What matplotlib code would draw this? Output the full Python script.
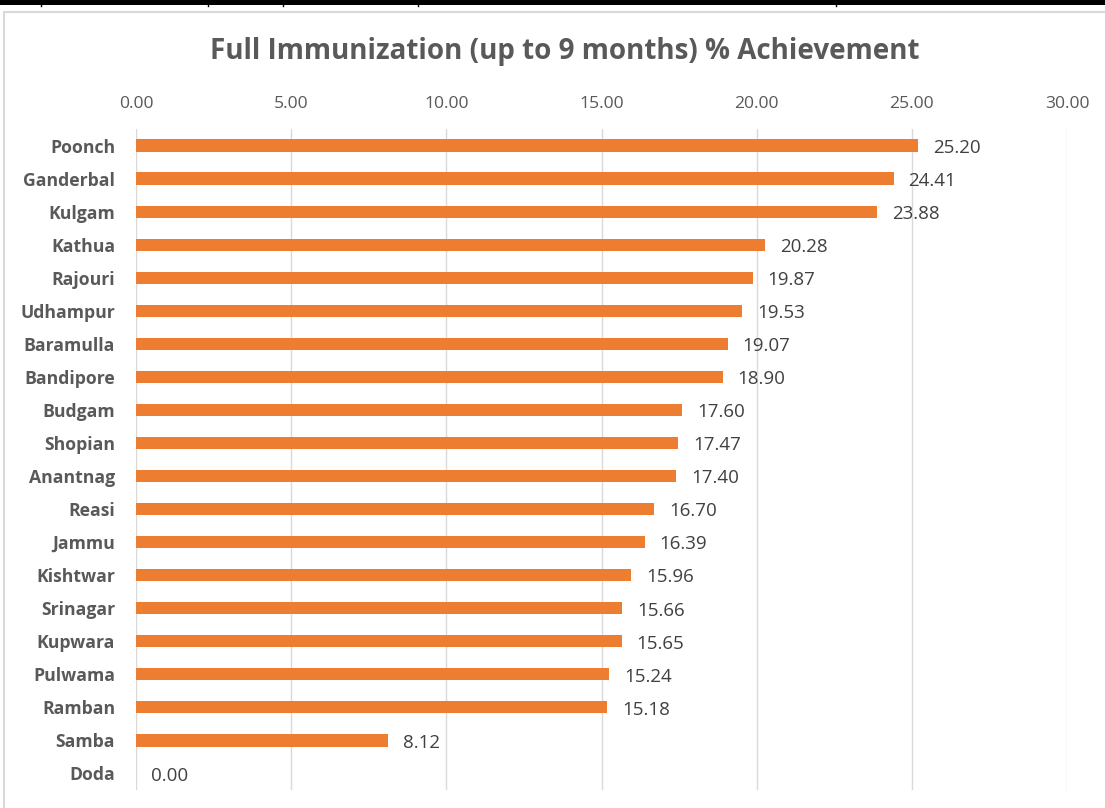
import matplotlib.pyplot as plt
from matplotlib.patches import Rectangle
from matplotlib.lines import Line2D

districts = ['Poonch', 'Ganderbal', 'Kulgam', 'Kathua', 'Rajouri', 'Udhampur',
             'Baramulla', 'Bandipore', 'Budgam', 'Shopian', 'Anantnag', 'Reasi',
             'Jammu', 'Kishtwar', 'Srinagar', 'Kupwara', 'Pulwama', 'Ramban',
             'Samba', 'Doda']
achievement = [25.20, 24.41, 23.88, 20.28, 19.87, 19.53, 19.07, 18.90, 17.60,
               17.47, 17.40, 16.70, 16.39, 15.96, 15.66, 15.65, 15.24, 15.18,
               8.12, 0.00]
x_ticks = [0, 5, 10, 15, 20, 25, 30]

plt.rcParams['font.family'] = ['Open Sans', 'DejaVu Sans']
grey = '#595959'

fig = plt.figure(figsize=(11.05, 8.08), dpi=100)

# bordures du tableau en haut (document source)
fig.add_artist(Rectangle((0, 1 - 5 / 808), 1, 5 / 808, transform=fig.transFigure,
                         color='black', lw=0))
for xp in [41, 208, 283, 418, 836]:
    fig.add_artist(Line2D([xp / 1105, xp / 1105], [1 - 6 / 808, 1], transform=fig.transFigure,
                          color='black', lw=1))
# cadre du graphique
fig.add_artist(Rectangle((3.5 / 1105, -0.01), 1.1, 1 - 11.5 / 808 + 0.01, transform=fig.transFigure,
                         fill=False, edgecolor='#d9d9d9', lw=1.5))

ax = fig.add_axes([136 / 1105, 1 - 790 / 808, 931 / 1105, 661 / 808])
y = range(len(districts))
ax.barh(y, achievement, height=0.37, color='#ED7D31')
for yi, v in zip(y, achievement):
    ax.text(v + 0.48, yi + 0.07, f'{v:.2f}', va='center', ha='left', fontsize=13.5, color='#404040')

ax.set_xlim(0, 30)
ax.set_ylim(len(districts) - 0.5, -0.5)
ax.set_xticks(x_ticks)
ax.set_xticklabels([f'{t:.2f}' for t in x_ticks], color=grey, fontsize=12.6)
ax.xaxis.tick_top()
ax.set_yticks(list(y))
ax.set_yticklabels(districts, fontweight='bold', color=grey, fontsize=12.7)
ax.tick_params(length=0)
ax.tick_params(axis='y', pad=15)
ax.tick_params(axis='x', pad=12)
ax.grid(axis='x', color='#d9d9d9', lw=1)
ax.set_axisbelow(True)
for s in ax.spines.values():
    s.set_visible(False)

fig.text(565 / 1105, 1 - 52 / 808, 'Full Immunization (up to 9 months) % Achievement',
         ha='center', va='center', fontsize=20, fontweight='bold', color=grey)

fig.savefig('out.png', dpi=100)
